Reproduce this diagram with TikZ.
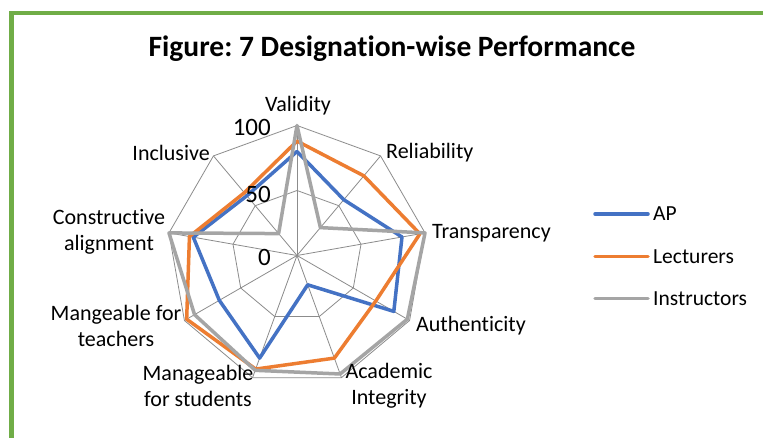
\documentclass[tikz,border=0pt]{standalone}
\usepackage{fontspec}
\setmainfont{Carlito}[Ligatures=NoCommon]
\usetikzlibrary{calc}
\definecolor{apblue}{HTML}{4472C4}
\definecolor{lecorange}{HTML}{ED7D31}
\definecolor{insgray}{HTML}{A5A5A5}
\definecolor{framegreen}{HTML}{70AD47}
\definecolor{gridgray}{HTML}{8C8C8C}
\frenchspacing
\begin{document}
\begin{tikzpicture}[x=1pt,y=1pt,
  gridline/.style={draw=gridgray, line width=0.8},
  series/.style={line width=3.5, line join=round, line cap=round},
  axlabel/.style={font=\fontsize{22}{26}\selectfont, align=center, inner sep=0pt},
  ticklabel/.style={font=\fontsize{25}{28}\selectfont, anchor=east, inner sep=0pt},
  legtext/.style={font=\fontsize{21.5}{24}\selectfont, anchor=west, inner sep=0pt}]
\useasboundingbox (0,0) rectangle (763,438);
\fill[white] (0,0) rectangle (763,438);
\draw[framegreen, line width=4.5] (11.5,-5) |- (770,425);
\node[font=\bfseries\fontsize{29.5}{32}\selectfont, anchor=base, inner sep=0pt] (title) at (392,381) {Figure: 7 Designation-wise Performance};
% radar grid
\coordinate (c) at (297,182.5);
\foreach \k in {0,...,8} {
  \coordinate (o\k) at ($(c)+({90-40*\k}:130)$);
  \coordinate (m\k) at ($(c)+({90-40*\k}:65)$);
}
\foreach \k in {0,...,8} \draw[gridline] (c) -- (o\k);
\draw[gridline] (o0)--(o1)--(o2)--(o3)--(o4)--(o5)--(o6)--(o7)--(o8)--cycle;
\draw[gridline] (m0)--(m1)--(m2)--(m3)--(m4)--(m5)--(m6)--(m7)--(m8)--cycle;
% data
\foreach \v [count=\i from 0] in {80,56,82,86,24,84,69,81,60}
  \coordinate (a\i) at ($(c)+({90-40*\i}:{1.3*\v})$);
\foreach \v [count=\i from 0] in {88,80,96,70,84,93,98,84,63}
  \coordinate (l\i) at ($(c)+({90-40*\i}:{1.3*\v})$);
\foreach \v [count=\i from 0] in {100,28,100,98,97,94,91,100,22}
  \coordinate (n\i) at ($(c)+({90-40*\i}:{1.3*\v})$);
\draw[series, apblue] (a0)--(a1)--(a2)--(a3)--(a4)--(a5)--(a6)--(a7)--(a8)--cycle;
\draw[series, lecorange] (l0)--(l1)--(l2)--(l3)--(l4)--(l5)--(l6)--(l7)--(l8)--cycle;
\draw[series, insgray] (n0)--(n1)--(n2)--(n3)--(n4)--(n5)--(n6)--(n7)--(n8)--cycle;
% tick labels
\node[ticklabel] (t100) at (271,310.5) {100};
\node[ticklabel] (t50) at (271,243.5) {50};
\node[ticklabel] (t0) at (271,180.5) {0};
% axis labels
\node[axlabel] (lval) at (298,332) {Validity};
\node[axlabel, anchor=west] (lrel) at (386,285) {Reliability};
\node[axlabel, anchor=west] (ltra) at (432,205) {Transparency};
\node[axlabel, anchor=west] (laut) at (416,112) {Authenticity};
\node[axlabel] (laca) at (389,52) {Academic\\Integrity};
\node[axlabel] (lmst) at (198,52) {Manageable\\for students};
\node[axlabel] (lmte) at (116,112.5) {Mangeable for\\teachers};
\node[axlabel] (lcon) at (109,206) {Constructive\\alignment};
\node[axlabel, anchor=east] (linc) at (210,285) {Inclusive};
% legend
\coordinate (lg1a) at (595,224); \coordinate (lg1b) at (648,224);
\coordinate (lg2a) at (595,181.3); \coordinate (lg2b) at (648,181.3);
\coordinate (lg3a) at (595,139.7); \coordinate (lg3b) at (648,139.7);
\draw[series, apblue] (lg1a) -- (lg1b);
\draw[series, lecorange] (lg2a) -- (lg2b);
\draw[series, insgray] (lg3a) -- (lg3b);
\node[legtext] (leg1) at (653,224) {AP};
\node[legtext] (leg2) at (653,181.3) {Lecturers};
\node[legtext] (leg3) at (653,139.7) {Instructors};
\end{tikzpicture}
\end{document}
